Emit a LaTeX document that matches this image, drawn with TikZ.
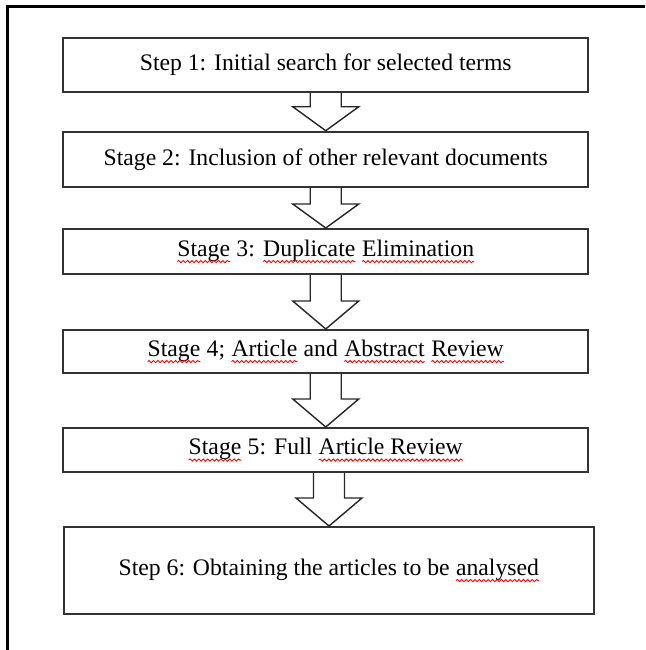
\documentclass[tikz,border=0pt]{standalone}
\usepackage{fontspec}
\setmainfont{Liberation Serif}
\usetikzlibrary{calc, decorations.pathmorphing}

\newcommand{\spell}[1]{\tikz[baseline=(w.base)]{\node [draw=none, inner sep=0pt, outer sep=0pt, minimum width=0pt, minimum height=0pt] (w) {#1}; \draw [red, line width=0.45pt, decorate, decoration={snake, amplitude=0.55pt, segment length=2.2pt}] ([yshift=-2.6pt]w.base west) -- ([yshift=-2.6pt]w.base east);}}

\begin{document}
\begin{tikzpicture} [x=0.5pt, y=-0.5pt,
                    stepbox/.style={draw=black!80, line width=1pt, minimum width=262.25pt, inner sep=0pt, font=\fontsize{11.85}{14}\selectfont},
                    flow/.style={draw=black!85, line width=0.7pt, line join=miter}
                ]
                \useasboundingbox (0,0) rectangle (645,650);
                \draw [line width=1.5pt] (645,6) -- (7.5,6) -- (7.5,650);
                \node [stepbox, minimum height=27.25pt] (step1) at (325.75,64.75) {Step 1: Initial search for selected terms};
                \node [stepbox, minimum height=27.65pt] (step2) at (325.75,159.35) {Stage 2: Inclusion of other relevant documents};
                \node [stepbox, minimum height=22.5pt] (step3) at (325.75,251.5) {\spell{Stage} 3: \spell{Duplicate} \spell{Elimination}};
                \node [stepbox, minimum height=21.5pt] (step4) at (325.75,351.5) {\spell{Stage} 4; \spell{Article} and \spell{Abstract} \spell{Review}};
                \node [stepbox, minimum height=22pt] (step5) at (325.75,450) {\spell{Stage} 5: Full \spell{Article Review}};
                \node [stepbox, minimum width=265pt, minimum height=43.5pt] (step6) at (329,570.5) {Step 6: Obtaining the articles to be \spell{analysed}};
                \foreach \a/\b/\h in {step1/step2/24, step2/step3/24, step3/step4/28, step4/step5/28, step5/step6/28}
                    \draw [flow] ($(\a.south -| \b.north)+(-15.5,0)$) -- ($(\b.north)+(-15.5,-\h)$) -- ($(\b.north)+(-33,-\h)$) -- (\b.north) -- ($(\b.north)+(33,-\h)$) -- ($(\b.north)+(15.5,-\h)$) -- ($(\a.south -| \b.north)+(15.5,0)$);
\end{tikzpicture}
\end{document}
